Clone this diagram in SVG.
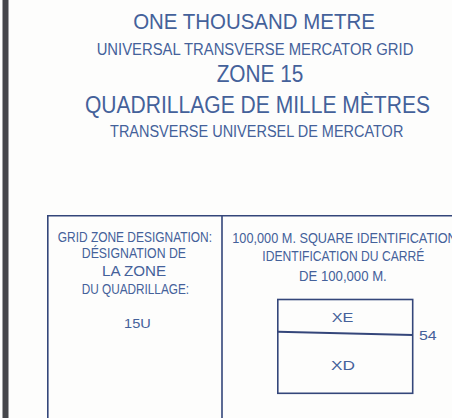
<svg xmlns="http://www.w3.org/2000/svg" width="452" height="418" viewBox="0 0 452 418">
<style>
.t{font-family:"Liberation Sans",Arial,sans-serif;fill:#44619a;text-anchor:middle}
.ln{fill:none;stroke:#34467a;stroke-width:1.6}
</style>
<rect x="0" y="0" width="452" height="418" fill="#fdfdfc"/>
<rect x="2.5" y="0" width="6" height="418" fill="#45464a"/>
<g id="title">
<text class="t" x="254" y="29.3" font-size="22.3" textLength="241.7" lengthAdjust="spacingAndGlyphs">ONE THOUSAND METRE</text>
<text class="t" x="255" y="55" font-size="16.3" textLength="316.7" lengthAdjust="spacingAndGlyphs">UNIVERSAL TRANSVERSE MERCATOR GRID</text>
<text class="t" x="260" y="81.7" font-size="23" textLength="86.7" lengthAdjust="spacingAndGlyphs">ZONE 15</text>
<text class="t" x="257.5" y="113.3" font-size="23" textLength="345" lengthAdjust="spacingAndGlyphs">QUADRILLAGE DE MILLE MÈTRES</text>
<text class="t" x="256.7" y="136.7" font-size="16.3" textLength="293.3" lengthAdjust="spacingAndGlyphs">TRANSVERSE UNIVERSEL DE MERCATOR</text>
</g>
<g id="frame">
<path class="ln" d="M47.8,418 V215.8 H452 M222,215.8 V418"/>
</g>
<g id="grid-zone">
<text class="t" x="134.9" y="242" font-size="14.2" textLength="154.3" lengthAdjust="spacingAndGlyphs">GRID ZONE DESIGNATION:</text>
<text class="t" x="133.9" y="258.3" font-size="14.2" textLength="104.3" lengthAdjust="spacingAndGlyphs">DÉSIGNATION DE</text>
<text class="t" x="134" y="276" font-size="14.2" textLength="64" lengthAdjust="spacingAndGlyphs">LA ZONE</text>
<text class="t" x="135.4" y="293.7" font-size="14.2" textLength="107.3" lengthAdjust="spacingAndGlyphs">DU QUADRILLAGE:</text>
<text class="t" x="137.4" y="327.7" font-size="13" textLength="26.7" lengthAdjust="spacingAndGlyphs">15U</text>
</g>
<g id="square-id">
<text class="t" x="232.3" y="243.3" font-size="14.2" style="text-anchor:start" textLength="224.5" lengthAdjust="spacingAndGlyphs">100,000 M. SQUARE IDENTIFICATION</text>
<text class="t" x="343.3" y="261" font-size="14.2" textLength="162" lengthAdjust="spacingAndGlyphs">IDENTIFICATION DU CARRÉ</text>
<text class="t" x="342.9" y="281" font-size="14.2" textLength="87.7" lengthAdjust="spacingAndGlyphs">DE 100,000 M.</text>
</g>
<g id="square-box">
<rect class="ln" x="277.8" y="299.5" width="134.9" height="93.8"/>
<text class="t" x="342.5" y="321.7" font-size="13" textLength="21.7" lengthAdjust="spacingAndGlyphs">XE</text>
<text class="t" x="343" y="370" font-size="13" textLength="24" lengthAdjust="spacingAndGlyphs">XD</text>
</g>
<g id="connectors">
<path d="M277.8,331.7 L412.7,335" fill="none" stroke="#34467a" stroke-width="2"/>
</g>
<g id="label-54">
<text class="t" x="427.8" y="340" font-size="13" textLength="17.7" lengthAdjust="spacingAndGlyphs">54</text>
</g>
</svg>
